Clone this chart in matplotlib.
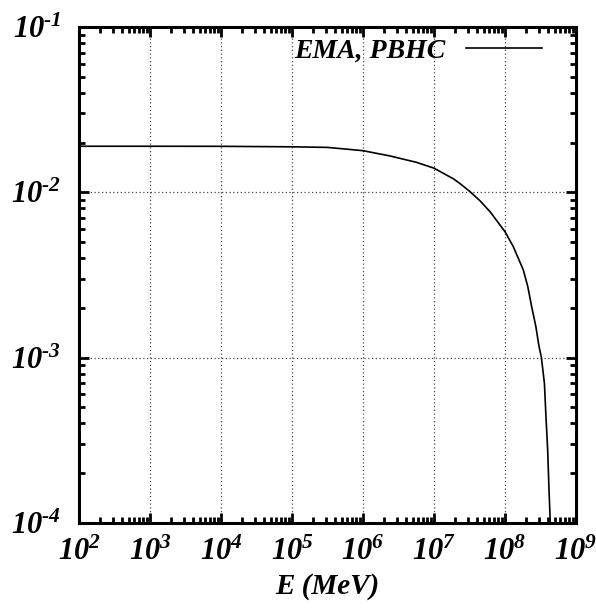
import numpy as np
import matplotlib
matplotlib.use("Agg")
import matplotlib.pyplot as plt
from matplotlib.ticker import FixedLocator, FuncFormatter, NullFormatter

plt.rcParams['font.family'] = ['Liberation Serif']
plt.rcParams['font.weight'] = 'bold'
plt.rcParams['font.style'] = 'italic'
plt.rcParams['axes.labelweight'] = 'bold'
plt.rcParams['mathtext.fontset'] = 'custom'
plt.rcParams['mathtext.rm'] = 'Liberation Serif:bold:italic'
plt.rcParams['mathtext.it'] = 'Liberation Serif:bold:italic'
plt.rcParams['mathtext.bf'] = 'Liberation Serif:bold:italic'
plt.rcParams['mathtext.default'] = 'it'

# Data
log_E = [2.0, 3.0, 4.0, 5.0, 5.5, 6.0, 6.38, 6.75, 7.0, 7.272, 7.366, 7.507,
         7.648, 7.789, 7.930, 8.0, 8.117, 8.258, 8.321, 8.376, 8.435, 8.476,
         8.513, 8.555, 8.577, 8.601, 8.620, 8.638]
flux = [0.0190, 0.0190, 0.01898, 0.01885, 0.0187, 0.01786, 0.0166, 0.0152,
        0.0140, 0.01208, 0.01130, 0.0101, 0.00889, 0.00764, 0.00634, 0.00578,
        0.00469, 0.00339, 0.00269, 0.00203, 0.00154, 0.00119, 0.00100,
        0.000700, 0.000440, 0.000276, 0.000158, 0.000100]
series_label = "EMA, PBHC"
x_label = "E (MeV)"
x_tick_exps = [2, 3, 4, 5, 6, 7, 8, 9]
y_tick_exps = [-4, -3, -2, -1]

E = np.power(10.0, log_E)
x_major = [10.0 ** e for e in x_tick_exps]
y_major = [10.0 ** e for e in y_tick_exps]
x_minor = [m * 10.0 ** e for e in x_tick_exps[:-1] for m in range(2, 10)]
y_minor = [m * 10.0 ** e for e in y_tick_exps[:-1] for m in range(2, 10)]


def pow_fmt(v, pos):
    e = int(round(np.log10(v)))
    if e < 0:
        return r'$10^{\text{-}%d}$' % (-e)
    return r'$10^{%d}$' % e


fig = plt.figure(figsize=(5.96, 6.08), dpi=100)
ax = fig.add_axes([79/596, 1-523/608, (576-79)/596, (523-27)/608])

ax.plot(E, flux, color='black', lw=1.2, label=series_label)
ax.set_xscale('log')
ax.set_yscale('log')
ax.set_xlim(x_major[0], x_major[-1])
ax.set_ylim(y_major[0], y_major[-1])

ax.xaxis.set_major_locator(FixedLocator(x_major))
ax.yaxis.set_major_locator(FixedLocator(y_major))
ax.xaxis.set_minor_locator(FixedLocator(x_minor))
ax.yaxis.set_minor_locator(FixedLocator(y_minor))
ax.xaxis.set_major_formatter(FuncFormatter(pow_fmt))
ax.yaxis.set_major_formatter(FuncFormatter(pow_fmt))
ax.xaxis.set_minor_formatter(NullFormatter())
ax.yaxis.set_minor_formatter(NullFormatter())

ax.tick_params(which='both', direction='in', top=True, right=True, width=2, labelsize=22)
ax.tick_params(which='major', length=7)
ax.tick_params(which='minor', length=4)
ax.tick_params(axis='x', which='major', pad=11)
ax.tick_params(axis='y', which='major', pad=13)

for s in ax.spines.values():
    s.set_linewidth(2.2)

ax.grid(True, which='major', linestyle=(0, (1, 2)), color='#444444', lw=0.9)

ax.set_xlabel(x_label, fontsize=21, labelpad=4)

leg = ax.legend(loc='upper right', bbox_to_anchor=(0.954, 1.0), frameon=False,
                markerfirst=False, fontsize=20, handlelength=2.73,
                handletextpad=0.75, borderaxespad=0.0)

fig.savefig('out.png', dpi=100)
